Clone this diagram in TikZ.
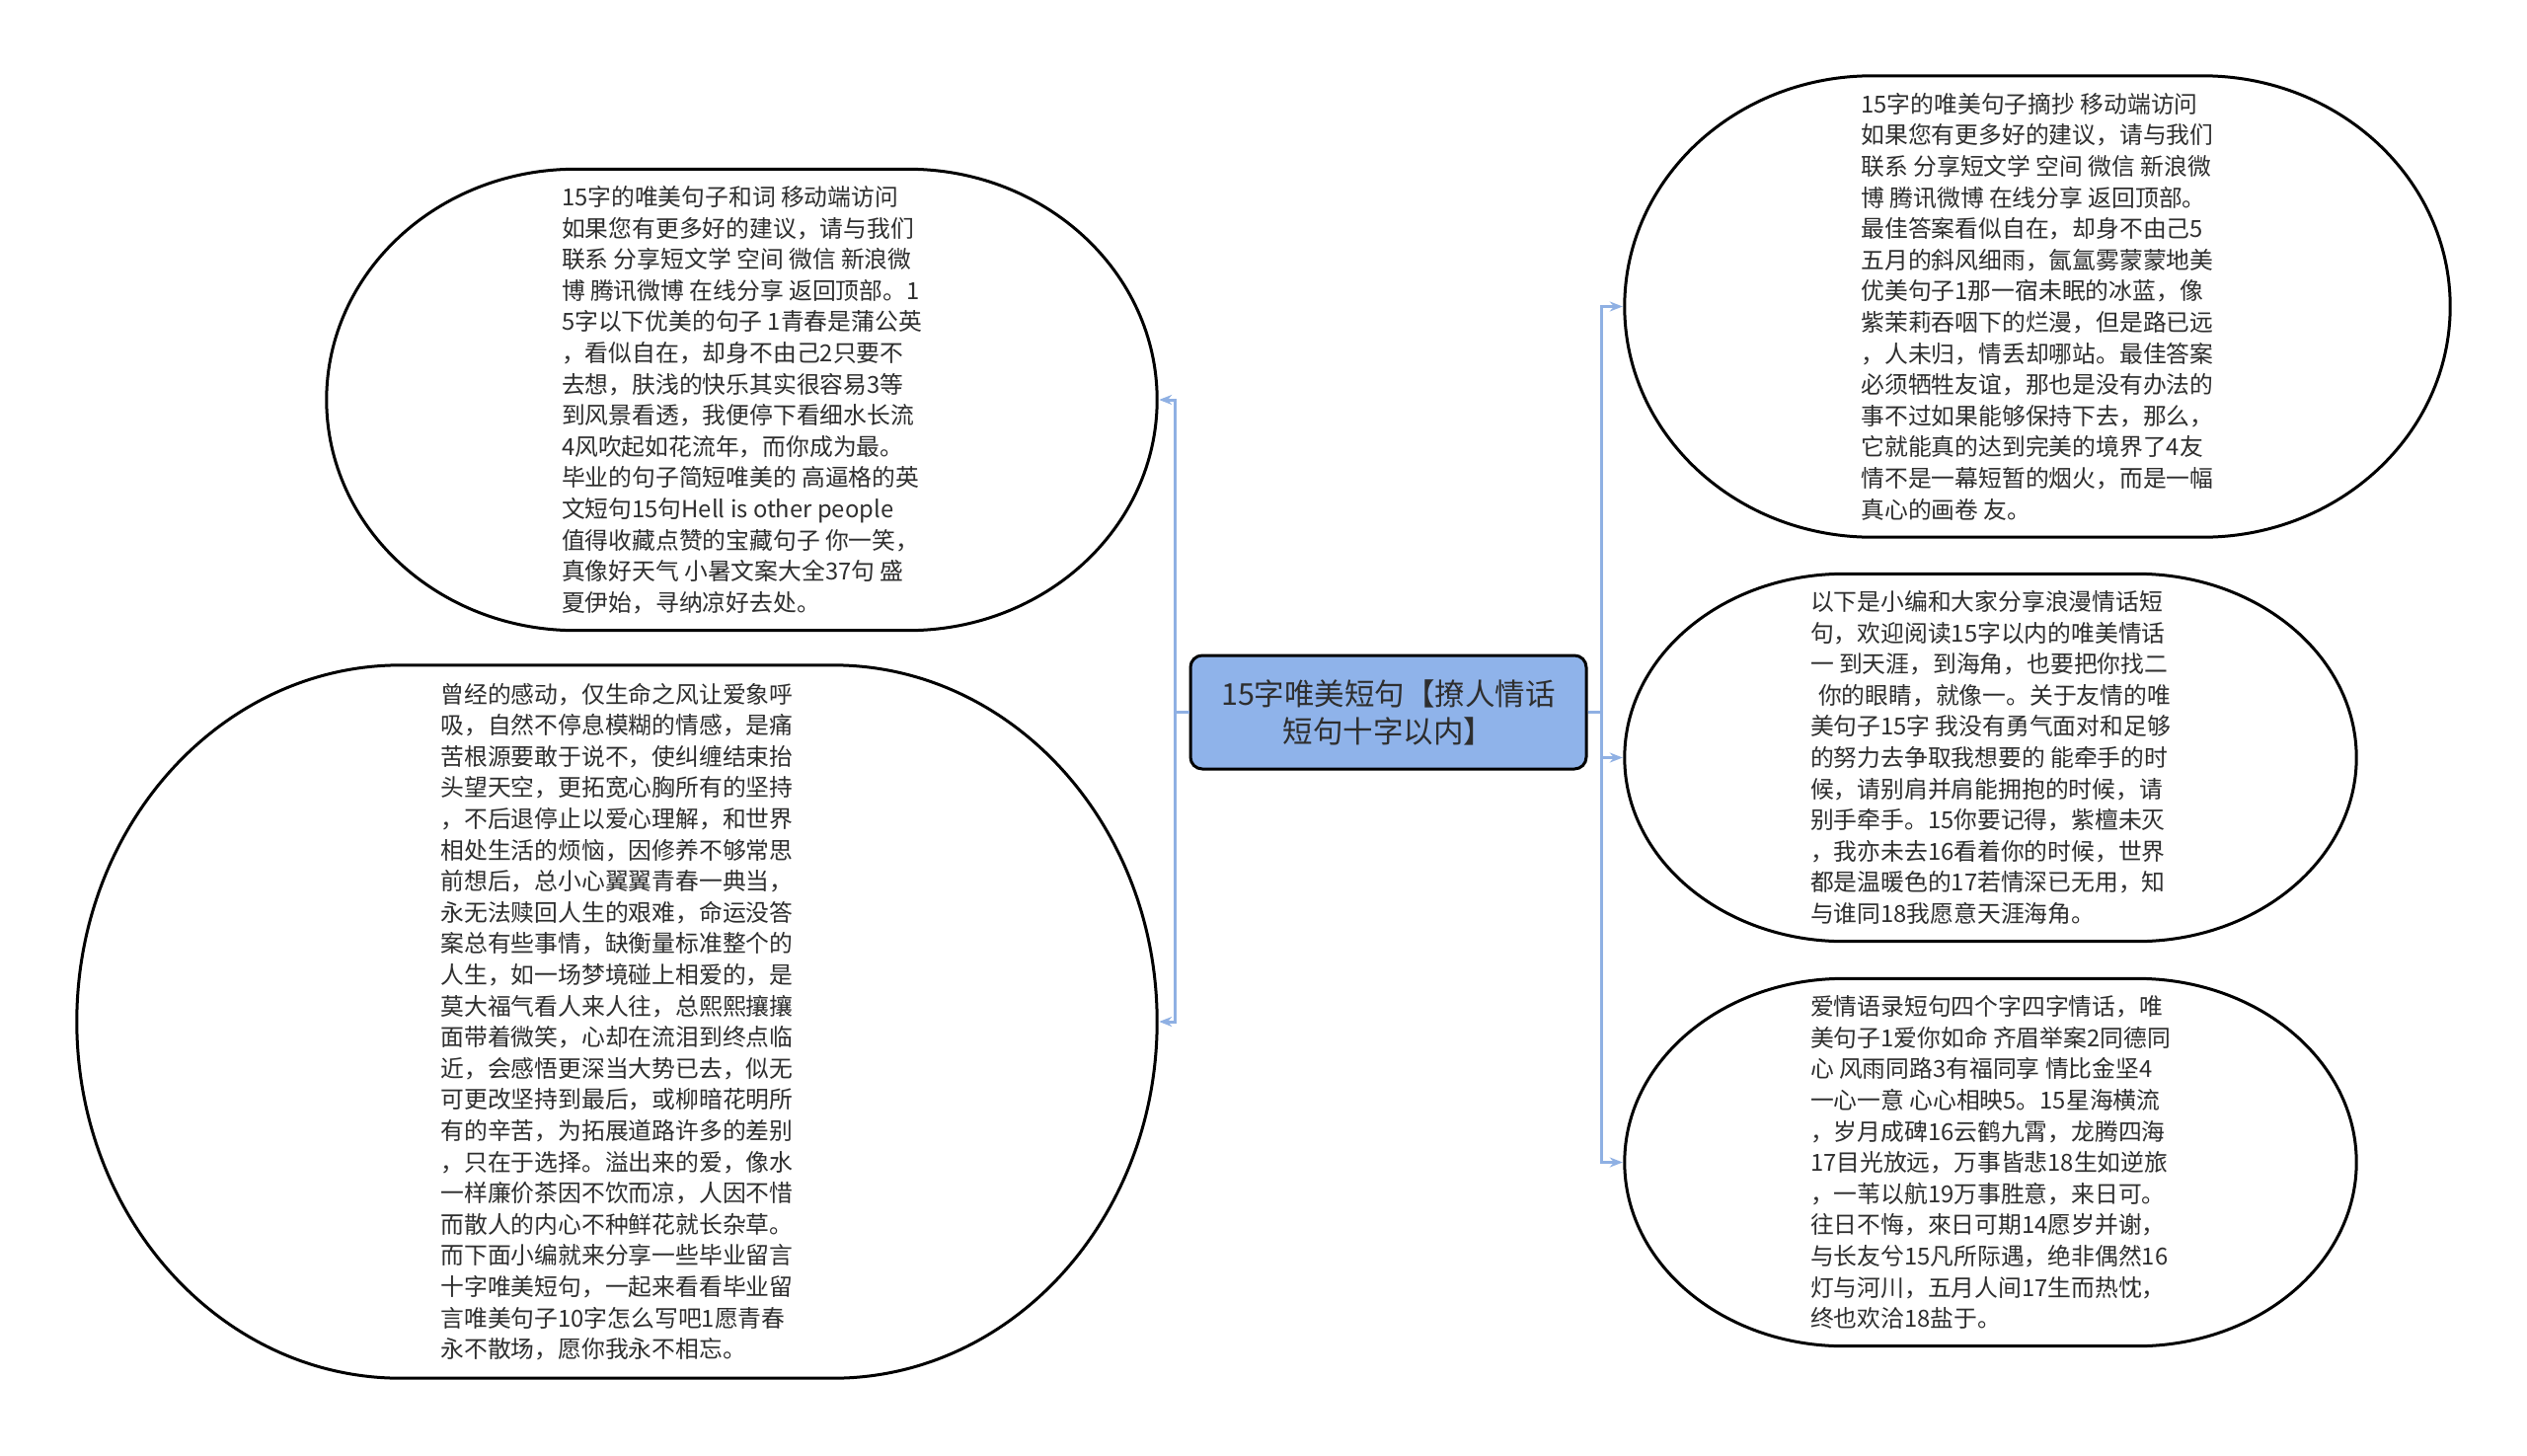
\documentclass[tikz,border=0pt]{standalone}
\usepackage{fontspec}
\setmainfont{Noto Sans CJK SC}
\usetikzlibrary{arrows.meta,calc}
\definecolor{connc}{HTML}{8FB0E3}
\definecolor{rootfill}{HTML}{8FB3EA}
\definecolor{txtc}{HTML}{2E2E2E}
\tikzset{
  blobnode/.style={draw=none, inner sep=0pt, align=left, text=txtc,
    font=\fontsize{23.8pt}{31.6pt}\selectfont},
  blobline/.style={draw=black, line width=3pt},
  rootnode/.style={draw=black, line width=3pt, fill=rootfill, rounded corners=12pt,
    minimum width=401pt, minimum height=115pt, inner sep=0pt, align=center, text=txtc,
    font=\fontsize{30.5pt}{38pt}\selectfont},
  connline/.style={draw=connc, line width=3pt, -{Stealth[length=13pt,width=10pt]}, shorten >=2pt}
}
\newcommand\blobborder[2]{%
  \draw[blobline] let \p1=(#1.north west), \p2=(#1.south east),
    \n1={(\x2-\x1)*#2}, \n3={(\y1+\y2)/2}, \n2={(\y1-\y2)/2},
    \n4={0.5523*\n1}, \n5={0.5523*\n2} in
    (\x1+\n1,\y1) -- (\x2-\n1,\y1)
    .. controls (\x2-\n1+\n4,\y1) and (\x2,\n3+\n5) .. (\x2,\n3)
    .. controls (\x2,\n3-\n5) and (\x2-\n1+\n4,\y2) .. (\x2-\n1,\y2)
    -- (\x1+\n1,\y2)
    .. controls (\x1+\n1-\n4,\y2) and (\x1,\n3-\n5) .. (\x1,\n3)
    .. controls (\x1,\n3+\n5) and (\x1+\n1-\n4,\y1) .. (\x1+\n1,\y1) -- cycle;}
\begin{document}
\begin{tikzpicture}[x=1pt,y=-1pt]
\useasboundingbox (0,0) rectangle (2560,1475);
\fill[white] (0,0) rectangle (2560,1475);

\node[rootnode] (root) at (1406.5,721.5) {15字唯美短句【撩人情话\\短句十字以内】};

\node[blobnode, minimum width=841pt, minimum height=467pt] (lt) at (751.5,405) {%
15字的唯美句子和词 移动端访问\\
如果您有更多好的建议，请与我们\\
联系 分享短文学 空间 微信 新浪微\\
博 腾讯微博 在线分享 返回顶部。1\\
5字以下优美的句子 1青春是蒲公英\\
，看似自在，却身不由己2只要不\\
去想，肤浅的快乐其实很容易3等\\
到风景看透，我便停下看细水长流\\
4风吹起如花流年，而你成为最。\\
毕业的句子简短唯美的 高逼格的英\\
文短句15句Hell is other people\\
值得收藏点赞的宝藏句子 你一笑，\\
真像好天气 小暑文案大全37句 盛\\
夏伊始，寻纳凉好去处。};

\node[blobnode, minimum width=1094pt, minimum height=722pt] (lb) at (625,1035) {%
曾经的感动，仅生命之风让爱象呼\\
吸，自然不停息模糊的情感，是痛\\
苦根源要敢于说不，使纠缠结束抬\\
头望天空，更拓宽心胸所有的坚持\\
，不后退停止以爱心理解，和世界\\
相处生活的烦恼，因修养不够常思\\
前想后，总小心翼翼青春一典当，\\
永无法赎回人生的艰难，命运没答\\
案总有些事情，缺衡量标准整个的\\
人生，如一场梦境碰上相爱的，是\\
莫大福气看人来人往，总熙熙攘攘\\
面带着微笑，心却在流泪到终点临\\
近，会感悟更深当大势已去，似无\\
可更改坚持到最后，或柳暗花明所\\
有的辛苦，为拓展道路许多的差别\\
，只在于选择。溢出来的爱，像水\\
一样廉价茶因不饮而凉，人因不惜\\
而散人的内心不种鲜花就长杂草。\\
而下面小编就来分享一些毕业留言\\
十字唯美短句，一起来看看毕业留\\
言唯美句子10字怎么写吧1愿青春\\
永不散场，愿你我永不相忘。};

\node[blobnode, minimum width=836pt, minimum height=467pt] (rt) at (2064,310.5) {%
15字的唯美句子摘抄 移动端访问\\
如果您有更多好的建议，请与我们\\
联系 分享短文学 空间 微信 新浪微\\
博 腾讯微博 在线分享 返回顶部。\\
最佳答案看似自在，却身不由己5\\
五月的斜风细雨，氤氲雾蒙蒙地美\\
优美句子1那一宿未眠的冰蓝，像\\
紫茉莉吞咽下的烂漫，但是路已远\\
，人未归，情丢却哪站。最佳答案\\
必须牺牲友谊，那也是没有办法的\\
事不过如果能够保持下去，那么，\\
它就能真的达到完美的境界了4友\\
情不是一幕短暂的烟火，而是一幅\\
真心的画卷 友。};

\node[blobnode, minimum width=741pt, minimum height=372pt] (rm) at (2016.5,767.5) {%
以下是小编和大家分享浪漫情话短\\
句，欢迎阅读15字以内的唯美情话\\
一 到天涯，到海角，也要把你找二\\
\hspace*{8pt}你的眼睛，就像一。关于友情的唯\\
美句子15字 我没有勇气面对和足够\\
的努力去争取我想要的 能牵手的时\\
候，请别肩并肩能拥抱的时候，请\\
别手牵手。15你要记得，紫檀未灭\\
，我亦未去16看着你的时候，世界\\
都是温暖色的17若情深已无用，知\\
与谁同18我愿意天涯海角。};

\node[blobnode, minimum width=741pt, minimum height=372pt] (rb) at (2016.5,1177.5) {%
爱情语录短句四个字四字情话，唯\\
美句子1爱你如命 齐眉举案2同德同\\
心 风雨同路3有福同享 情比金坚4\\
一心一意 心心相映5。15星海横流\\
，岁月成碑16云鹤九霄，龙腾四海\\
17目光放远，万事皆悲18生如逆旅\\
，一苇以航19万事胜意，来日可。\\
往日不悔，來日可期14愿岁并谢，\\
与长友兮15凡所际遇，绝非偶然16\\
灯与河川，五月人间17生而热忱，\\
终也欢洽18盐于。};

\blobborder{lt}{0.3}
\blobborder{lb}{0.3}
\blobborder{rt}{0.3}
\blobborder{rm}{0.3}
\blobborder{rb}{0.3}

\draw[connline] (root.west) -- ++(-14,0) |- (lt.east);
\draw[connline] (root.west) -- ++(-14,0) |- (lb.east);
\draw[connline] (root.east) -- ++(14,0) |- (rt.west);
\draw[connline] (root.east) -- ++(14,0) |- (rm.west);
\draw[connline] (root.east) -- ++(14,0) |- (rb.west);
\end{tikzpicture}
\end{document}
